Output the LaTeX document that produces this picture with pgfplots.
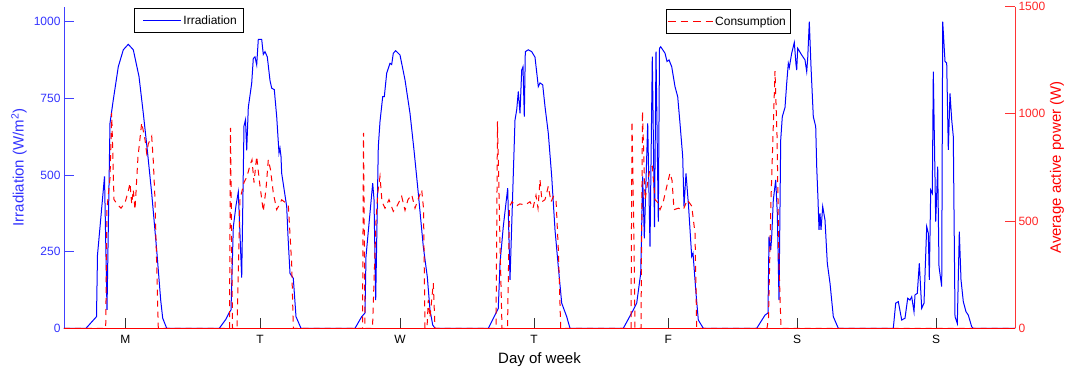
\documentclass[border=0pt]{standalone}
\usepackage{fontspec}
\setmainfont{Liberation Sans}
\usepackage{pgfplots}
\usepackage{pgfplotstable}
\pgfplotsset{compat=1.18}
\definecolor{irrblue}{rgb}{0,0,1}
\definecolor{conred}{rgb}{1,0,0}

% x: horizontal position along the week (chart units), y: irradiation W/m^2
\pgfplotstableread{
x y
64 0
86 0
96.5 38
97.5 239
100 330
104.5 495
107 60
110 669
113.3 745
118.3 853
123.3 908
128.3 926
133.3 908
139 821
143.3 701
147.3 581
151.7 440
156.7 255
160.7 92
162.7 33
166.7 0
219.3 0
226 30
229 50
231 60
233.3 330
236 400
238.3 445
241.7 165
244 660
245.5 680
246.7 580
248.3 720
251.7 799
253.3 880
255 885
256.7 859
258.3 942
261.7 942
263.3 893
265 902
267.3 885
270 808
271.7 783
274.3 778
276.7 690
279 571
280 587
281 560
281.7 505
286.7 397
288 300
290 179
293.3 163
296 38
301 0
355 0
361.7 38
365 50
366 234
372.7 473
374 420
375.7 92
378.3 592
380 674
382.7 755
384.3 755
386.7 832
390 864
391.7 860
393.3 897
395.7 905
400 891
405 810
410 701
414 581
418.3 440
423.3 266
427.3 168
430 60
432.7 11
435 0
488.3 0
498.3 65
500 212
503.3 332
507.7 457
510 158
515 679
516.7 712
518.3 772
520 701
521.7 842
523 853
524.3 690
525.3 902
528.3 908
531.7 902
535 884
538.3 788
540 800
542.7 794
545 723
548.3 636
551.7 495
555 321
558.3 201
561.7 82
566.7 38
570 0
623.3 0
633.3 60
636.7 82
640.7 179
642.7 495
644.3 293
647.7 668
650 266
652.3 886
654.5 330
656 902
658.3 348
659.5 913
660.7 918
665 897
667 870
669 875
671.7 853
675 788
677.7 755
680 668
682.7 560
684 397
686 505
688.5 400
691.7 234
693 245
696 114
698.3 27
703.3 0
756.7 0
765 43
768 50
769 299
770.7 255
771.7 299
773.3 418
775.7 484
777.3 375
779 92
780.7 614
782.3 690
785 720
786.7 799
788.3 864
789.3 850
791.7 897
794.3 932
796 860
796.7 842
797.7 913
801.7 891
805 875
806.7 837
807.7 880
809.3 1000
811 853
813.3 690
815.7 658
816.7 527
818 420
819 321
820 375
821 321
822.7 397
825 353
827.3 212
830 147
833.3 38
838.3 0
893.3 0
895.7 82
898.3 87
901.7 27
905 33
907.7 98
910 92
911.7 103
914 54
915 109
917.3 114
919.3 212
921.7 65
924 82
926.7 332
928.3 310
929.3 158
930.7 451
932.3 440
933.3 837
935.7 348
937.7 527
939 201
941.7 136
942.7 1000
945 870
946.7 865
948.3 582
950 766
951.7 680
953.3 625
955 38
957.3 16
959.3 315
961 158
963.3 87
966 54
968.3 43
971.7 5
973.3 0
1015 0
}\irradiation

% consumption, W
\pgfplotstableread{
x y
64 0
105.7 0
107 560
110 700
111.7 1004
114 600
117 580
121 560
125 585
128.3 640
130 677
131.7 580
133.3 646
135 553
138 800
141.7 958
145 880
146.7 817
148.3 860
151.7 895
153.3 780
155 600
158.3 0
229.5 0
230.5 934
232.5 0
237 0
240 600
244 680
247 708
250 760
252 786
254 680
256.7 802
259.3 690
263.3 545
266 650
268.3 786
270.5 740
273.3 631
276.7 553
281.7 599
288.3 576
291.7 300
293.3 0
362.5 0
363.5 911
365 0
372.5 0
376 500
378 640
380 708
382 590
385 560
389 600
393.3 545
397 570
401.7 615
405 550
408 600
411.7 623
415 560
418 600
421.7 646
423.5 560
425 0
427 0
428.3 132
430 50
433.3 210
435 0
496 0
497.5 965
500 400
502 0
507.5 0
509.5 568
512 590
516 570
520 580
525 575
530 590
533 560
536 620
538 560
540 693
542 590
545 600
548.3 662
551 590
553.5 615
556 600
558.5 350
560.7 0
631 0
632 965
634 400
635 0
641 0
642.5 1012
645 600
647 660
650 747
652.3 755
655 600
658 585
660 553
663 585
666.7 660
670 724
672 690
674 553
678.3 560
683.3 553
687.3 599
691.7 570
695 444
696.7 0
767 0
768.5 50
771 600
773 900
775 1199
777 900
779 300
781 0
1015 0
}\consumption

\newcommand{\legdash}{\rule[-0.5pt]{7.5pt}{1pt}}
\pgfplotsset{
  common/.style={
    scale only axis, width=951pt, height=321.7pt,
    xmin=64, xmax=1015,
    /pgf/number format/assume math mode=true,
    /pgf/number format/1000 sep={},
    tick label style={font=\fontsize{12}{14}\selectfont},
    label style={font=\fontsize{15}{18}\selectfont},
    legend style={font=\fontsize{12}{14}\selectfont, fill=white, draw=none,
      text=black, inner ysep=5pt},
    legend cell align=left,
  }
}

\begin{document}
\begin{tikzpicture}
\useasboundingbox (-64pt,-43.7pt) rectangle (1001pt,328.3pt);
\begin{axis}[common,
  axis y line*=left, axis x line*=bottom,
  tick align=inside, major tick length=10pt,
  ymin=0, ymax=1048.9,
  ytick={0,250,500,750,1000},
  xtick={125.3,260,400,534,668.3,797,936},
  xticklabels={M,T,W,T,F,S,S},
  y axis line style={irrblue!75,-,line width=0.8pt},
  x axis line style={black,-,line width=0.8pt},
  ytick style={irrblue!75,line width=0.8pt}, xtick style={black!80,line width=0.8pt},
  yticklabel style={irrblue!80},
  xticklabel style={anchor=base, yshift=-15pt},
  ylabel={Irradiation (W/m\textsuperscript{2})},
  ylabel style={irrblue!80, at={(axis description cs:-0.0473,0.5)}, anchor=center},
  xlabel={Day of week},
  xlabel style={at={(axis description cs:0.5,-0.1088)}, anchor=base},
  legend style={at={(0.0739,0.9947)}, anchor=north west, inner xsep=4pt, name=legA},
  legend image code/.code={\node[anchor=west, inner sep=0pt, outer sep=0pt] at (0pt,0pt)
     {\hspace*{5pt}\textcolor{irrblue}{\rule[-0.5pt]{38pt}{1pt}}};},
]
\addplot[irrblue, line width=1pt] table[x=x,y=y] {\irradiation};
\addlegendentry{Irradiation}
\end{axis}
\draw[black, line width=0.8pt] (legA.south west) rectangle (legA.north east);
\begin{axis}[common,
  axis y line*=right, axis x line*=bottom,
  tick align=inside, major tick length=10pt,
  ymin=0, ymax=1500,
  ytick={0,500,1000,1500},
  xtick=\empty,
  y axis line style={conred!80,-,line width=0.8pt},
  x axis line style={conred,-,line width=0.8pt},
  ytick style={conred!80,line width=0.8pt},
  yticklabel style={conred!85},
  ylabel={Average active power (W)},
  ylabel style={conred, at={(axis description cs:1.0442,0.5)}, anchor=center},
  legend style={at={(0.633,0.9916)}, anchor=north west, inner xsep=2pt, name=legB},
  legend image code/.code={\node[anchor=west, inner sep=0pt, outer sep=0pt] at (0pt,0pt)
     {\textcolor{conred}{\legdash\hspace{5pt}\legdash\hspace{5pt}\legdash\hspace{5pt}\legdash}};},
]
\addplot[conred, line width=1pt, dash pattern=on 6pt off 5pt] table[x=x,y=y] {\consumption};
\addlegendentry{Consumption}
\end{axis}
\draw[black, line width=0.8pt] (legB.south west) rectangle (legB.north east);
\end{tikzpicture}
\end{document}
